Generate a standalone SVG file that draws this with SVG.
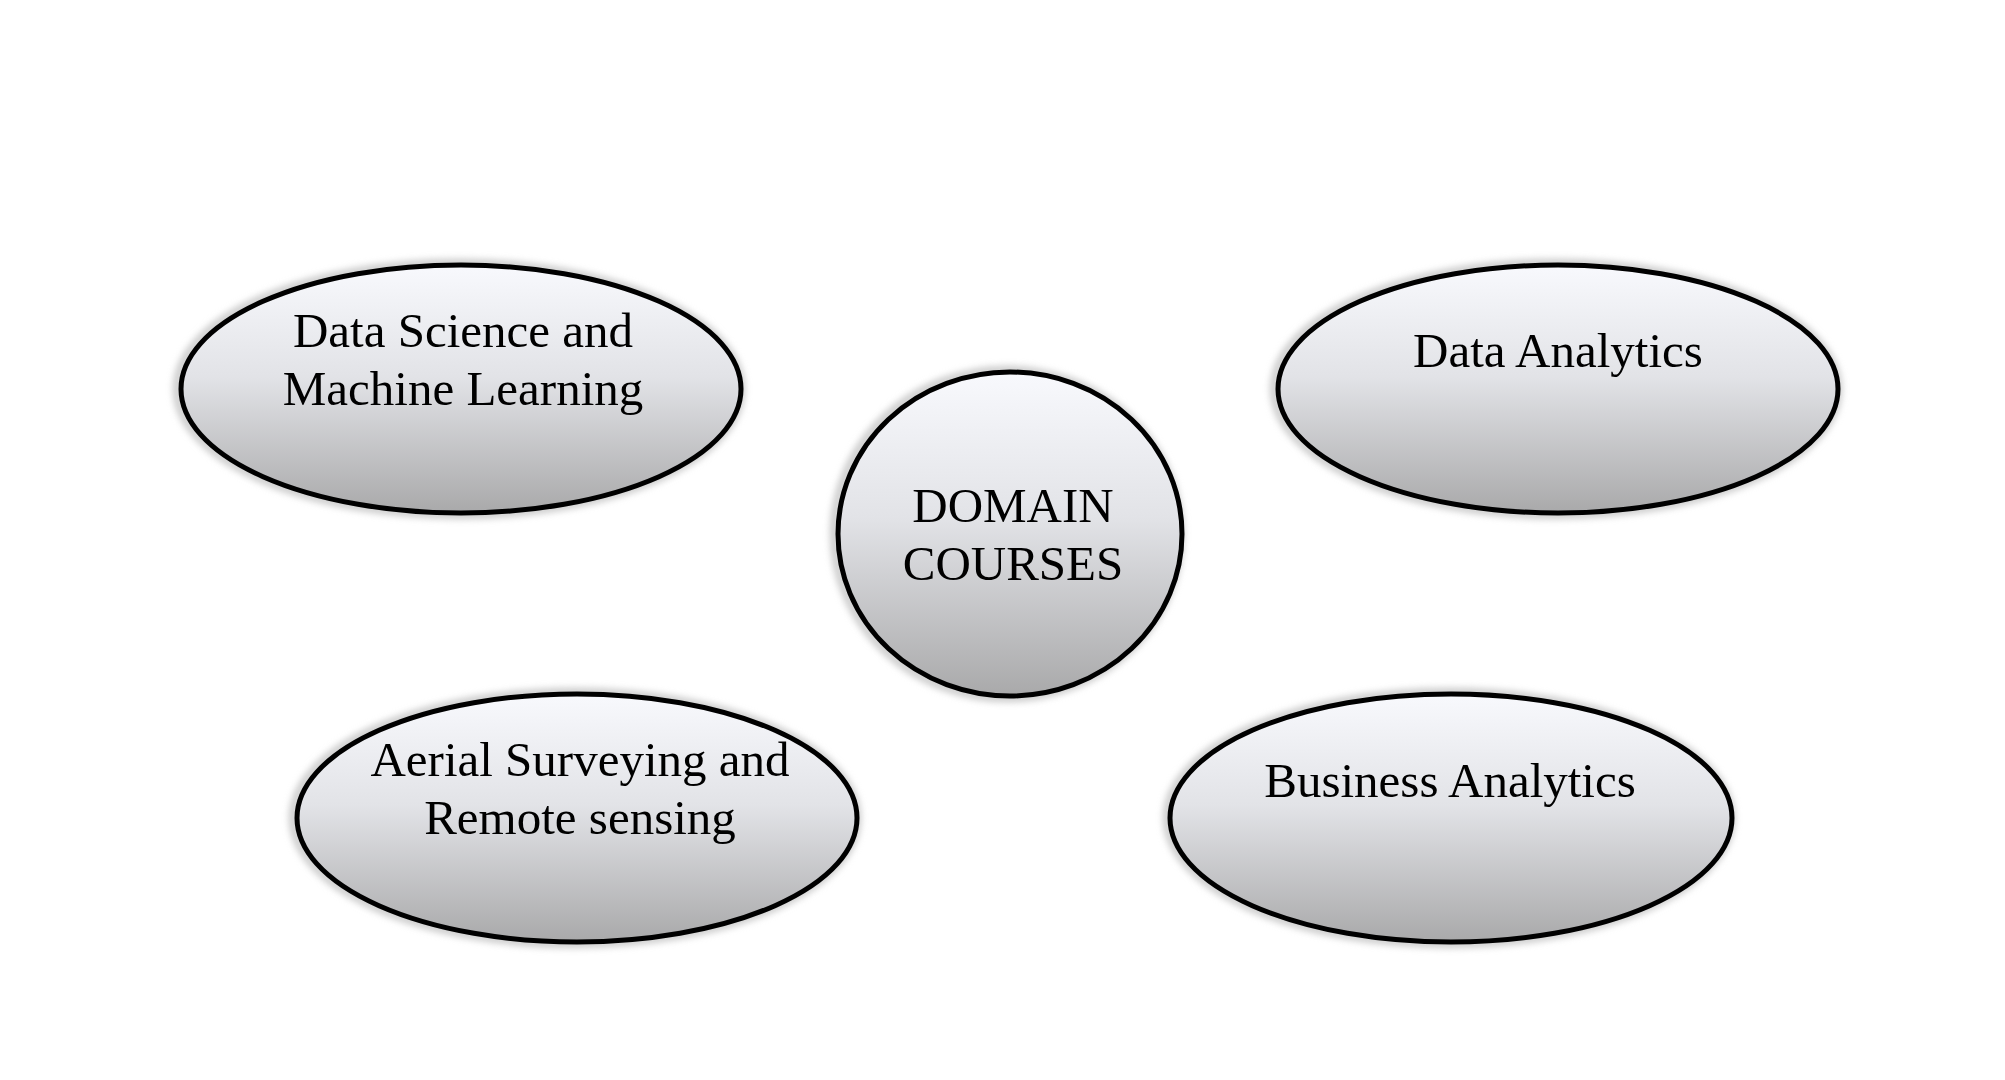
<svg xmlns="http://www.w3.org/2000/svg" width="2005" height="1080" viewBox="0 0 2005 1080">
<defs>
<linearGradient id="g" x1="0" y1="0" x2="0" y2="1">
<stop offset="0" stop-color="#f8f9fd"/>
<stop offset="0.45" stop-color="#e2e3e7"/>
<stop offset="1" stop-color="#a9a9aa"/>
</linearGradient>
<filter id="halo" x="-10%" y="-10%" width="120%" height="120%">
<feGaussianBlur stdDeviation="3"/>
</filter>
</defs>
<style>
.shape{fill:url(#g);stroke:#000;stroke-width:5}
.glow{fill:none;stroke:#cfcfcf;stroke-width:9;filter:url(#halo)}
.t{font-family:"Liberation Serif","Times New Roman",serif;font-size:49px;fill:#000;text-anchor:middle}
</style>
<rect width="2005" height="1080" fill="#fff"/>
<g id="connectors"></g>
<g id="node-dsml">
<ellipse class="glow" cx="459" cy="389" rx="282" ry="126"/>
<ellipse class="shape" cx="461" cy="389" rx="280" ry="124"/>
<text class="t" x="463" y="347">Data Science and</text>
<text class="t" x="463" y="405">Machine Learning</text>
</g>
<g id="node-da">
<ellipse class="glow" cx="1556" cy="389" rx="282" ry="126"/>
<ellipse class="shape" cx="1558" cy="389" rx="280" ry="124"/>
<text class="t" x="1558" y="367">Data Analytics</text>
</g>
<g id="node-domain">
<ellipse class="glow" cx="1007" cy="534" rx="173" ry="164"/>
<ellipse class="shape" cx="1010" cy="534" rx="172" ry="162"/>
<text class="t" x="1013" y="522">DOMAIN</text>
<text class="t" x="1013" y="580">COURSES</text>
</g>
<g id="node-asrs">
<ellipse class="glow" cx="575" cy="818" rx="282" ry="126"/>
<ellipse class="shape" cx="577" cy="818" rx="280" ry="124"/>
<text class="t" x="580" y="776">Aerial Surveying and</text>
<text class="t" x="580" y="834">Remote sensing</text>
</g>
<g id="node-ba">
<ellipse class="glow" cx="1449" cy="818" rx="282" ry="126"/>
<ellipse class="shape" cx="1451" cy="818" rx="281" ry="124"/>
<text class="t" x="1450" y="797">Business Analytics</text>
</g>
</svg>
